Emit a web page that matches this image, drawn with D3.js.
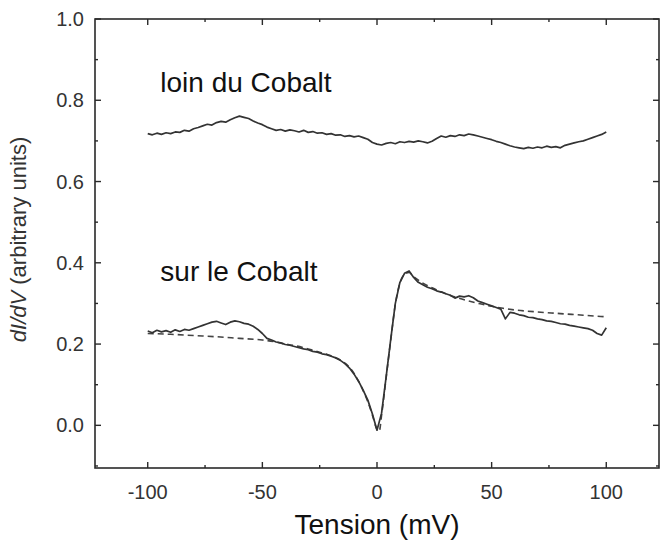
<!DOCTYPE html>
<html>
<head>
<meta charset="utf-8">
<script src="https://cdn.jsdelivr.net/npm/d3@7"></script>
<style>
  body { margin: 0; background: #fff; }
  text { font-family: "Liberation Sans", Arial, sans-serif; }
</style>
</head>
<body>
<div id="chart"></div>
<script>
// dI/dV spectra, far from and on top of a cobalt atom

// Bias voltage for the two measured curves (mV), 2 mV step
const voltage = d3.range(-100, 101, 2);

// "loin du Cobalt"
const loinValues = [
  0.718, 0.715, 0.719, 0.716, 0.720, 0.718, 0.722, 0.721, 0.726, 0.724,
  0.730, 0.733, 0.737, 0.741, 0.739, 0.745, 0.748, 0.746, 0.752, 0.757,
  0.761, 0.758, 0.755, 0.749, 0.744, 0.740, 0.734, 0.730, 0.726, 0.728,
  0.724, 0.727, 0.725, 0.722, 0.726, 0.721, 0.723, 0.719, 0.720, 0.716,
  0.718, 0.714, 0.715, 0.711, 0.713, 0.710, 0.712, 0.708, 0.704, 0.696,
  0.692, 0.690, 0.694, 0.696, 0.693, 0.698, 0.696, 0.699, 0.697, 0.700,
  0.698, 0.695, 0.699, 0.706, 0.712, 0.709, 0.713, 0.711, 0.715, 0.713,
  0.717, 0.715, 0.712, 0.709, 0.706, 0.703, 0.699, 0.696, 0.692, 0.688,
  0.685, 0.683, 0.681, 0.684, 0.682, 0.685, 0.683, 0.687, 0.684, 0.686,
  0.683, 0.689, 0.692, 0.695, 0.698, 0.700, 0.704, 0.708, 0.712, 0.716,
  0.722
];

// "sur le Cobalt"
const surValues = [
  0.232, 0.228, 0.234, 0.230, 0.233, 0.229, 0.235, 0.231, 0.236, 0.234,
  0.238, 0.242, 0.246, 0.250, 0.254, 0.256, 0.252, 0.248, 0.254, 0.257,
  0.255, 0.251, 0.249, 0.244, 0.236, 0.226, 0.214, 0.210, 0.205, 0.203,
  0.199, 0.197, 0.194, 0.191, 0.188, 0.186, 0.182, 0.180, 0.176, 0.174,
  0.170, 0.166, 0.160, 0.152, 0.141, 0.126, 0.108, 0.086, 0.062, 0.028,
  -0.012, 0.030, 0.120, 0.212, 0.300, 0.352, 0.374, 0.380, 0.364, 0.352,
  0.346, 0.340, 0.336, 0.331, 0.328, 0.324, 0.320, 0.313, 0.318, 0.316,
  0.319, 0.314, 0.306, 0.302, 0.298, 0.294, 0.290, 0.286, 0.262, 0.278,
  0.276, 0.272, 0.270, 0.266, 0.265, 0.262, 0.260, 0.257, 0.256, 0.253,
  0.250, 0.249, 0.246, 0.244, 0.242, 0.240, 0.238, 0.234, 0.226, 0.222,
  0.240
];

// Fitted curve (dashed)
const fitVoltage = [
  -100, -90, -80, -70, -60, -50, -45, -40, -35, -30, -25, -20, -15, -12, -10,
  -8, -6, -4, -2, 0, 1, 2, 4, 6, 8, 10, 12, 14, 16, 20, 25, 30, 35, 40, 45,
  50, 55, 60, 70, 80, 90, 100
];
const fitValues = [
  0.226, 0.224, 0.221, 0.218, 0.214, 0.210, 0.206, 0.200, 0.195, 0.188, 0.180,
  0.171, 0.157, 0.143, 0.128, 0.108, 0.085, 0.058, 0.025, -0.010, -0.014,
  0.025, 0.118, 0.210, 0.298, 0.350, 0.372, 0.376, 0.366, 0.350, 0.336,
  0.324, 0.314, 0.306, 0.299, 0.293, 0.288, 0.284, 0.279, 0.275, 0.271, 0.267
];

const xTicks = [-100, -50, 0, 50, 100];
const xMinorTicks = [-125, -75, -25, 25, 75];
const yTicks = [0.0, 0.2, 0.4, 0.6, 0.8, 1.0];
const yMinorTicks = [-0.1, 0.1, 0.3, 0.5, 0.7, 0.9];

const labels = [
  { text: "loin du Cobalt", v: -94.5, y: 0.82 },
  { text: "sur le Cobalt", v: -94.5, y: 0.355 }
];

const width = 661;
const height = 544;
const plot = { left: 95, right: 659, top: 19, bottom: 468 };

const svg = d3.select("#chart").append("svg")
  .attr("width", width)
  .attr("height", height);

const x = d3.scaleLinear().domain([-123, 123]).range([plot.left, plot.right]);
const y = d3.scaleLinear().domain([-0.105, 1.0]).range([plot.bottom, plot.top]);

const ink = "#2a2a2a";

// Ticks pointing inward on all four sides
const majorLen = 6, minorLen = 3;
const axisG = svg.append("g").attr("stroke", ink).attr("stroke-width", 1.4);

function vTicks(vals, len) {
  vals.forEach(v => {
    axisG.append("line")
      .attr("x1", x(v)).attr("x2", x(v))
      .attr("y1", plot.bottom).attr("y2", plot.bottom - len);
    axisG.append("line")
      .attr("x1", x(v)).attr("x2", x(v))
      .attr("y1", plot.top).attr("y2", plot.top + len);
  });
}
function hTicks(vals, len) {
  vals.forEach(v => {
    axisG.append("line")
      .attr("x1", plot.left).attr("x2", plot.left + len)
      .attr("y1", y(v)).attr("y2", y(v));
    axisG.append("line")
      .attr("x1", plot.right).attr("x2", plot.right - len)
      .attr("y1", y(v)).attr("y2", y(v));
  });
}
vTicks(xTicks, majorLen);
vTicks(xMinorTicks.filter(v => x(v) > plot.left), minorLen);
hTicks(yTicks, majorLen);
hTicks(yMinorTicks.filter(v => y(v) < plot.bottom), minorLen);

// frame
svg.append("rect")
  .attr("x", plot.left)
  .attr("y", plot.top)
  .attr("width", plot.right - plot.left)
  .attr("height", plot.bottom - plot.top)
  .attr("fill", "none")
  .attr("stroke", ink)
  .attr("stroke-width", 1.6);

// tick labels (plain hyphen for negatives, as in the original)
svg.selectAll(".xlab")
  .data(xTicks)
  .enter().append("text")
  .attr("class", "xlab")
  .attr("x", d => x(d))
  .attr("y", plot.bottom + 31)
  .attr("text-anchor", "middle")
  .style("font-size", "20px")
  .style("fill", "#333")
  .text(d => String(d));

svg.selectAll(".ylab")
  .data(yTicks)
  .enter().append("text")
  .attr("class", "ylab")
  .attr("x", plot.left - 11)
  .attr("y", d => y(d) + 7)
  .attr("text-anchor", "end")
  .style("font-size", "20px")
  .style("fill", "#333")
  .text(d => d.toFixed(1));

// axis titles
svg.append("text")
  .attr("x", x(0))
  .attr("y", 534)
  .attr("text-anchor", "middle")
  .style("font-size", "28px")
  .style("fill", "#111")
  .text("Tension (mV)");

const yTitle = svg.append("text")
  .attr("transform", `translate(26,${(plot.top + plot.bottom) / 2 - 4}) rotate(-90)`)
  .attr("text-anchor", "middle")
  .style("font-size", "22px")
  .style("fill", "#333");
yTitle.append("tspan").style("font-style", "italic").text("dI/dV");
yTitle.append("tspan").text(" (arbitrary units)");

// curves
const line = d3.line()
  .x(d => x(d[0]))
  .y(d => y(d[1]));

svg.append("path")
  .datum(fitVoltage.map((v, i) => [v, fitValues[i]]))
  .attr("d", line.curve(d3.curveMonotoneX))
  .attr("fill", "none")
  .attr("stroke", "#444")
  .attr("stroke-width", 1.6)
  .attr("stroke-dasharray", "6,4");

[loinValues, surValues].forEach(vals => {
  svg.append("path")
    .datum(voltage.map((v, i) => [v, vals[i]]))
    .attr("d", line.curve(d3.curveLinear))
    .attr("fill", "none")
    .attr("stroke", "#333")
    .attr("stroke-width", 1.7)
    .attr("stroke-linejoin", "round");
});

// curve annotations
svg.selectAll(".note")
  .data(labels)
  .enter().append("text")
  .attr("class", "note")
  .attr("x", d => x(d.v))
  .attr("y", d => y(d.y))
  .style("font-size", "28px")
  .style("fill", "#111")
  .text(d => d.text);
</script>
</body>
</html>
